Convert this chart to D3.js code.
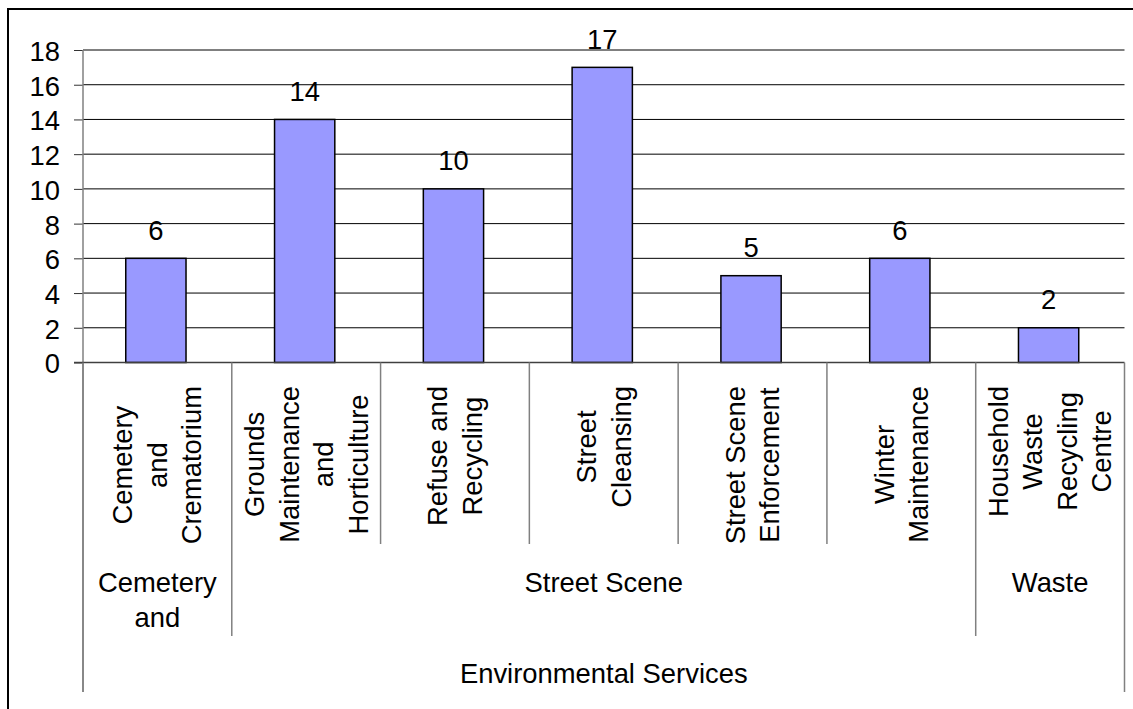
<!DOCTYPE html>
<html>
    <head>
        <script src="https://d3js.org/d3.v7.min.js"></script>
        <style type="text/css">
            html, body {
                margin: 0;
                padding: 0;
                background: #fff;
            }
            svg text {
                font-family: "Liberation Sans", Arial, sans-serif;
                fill: #000;
            }
        </style>
    </head>
    <body>
        <div id="chart"></div>
        <script>
            // values
            var categories = ["Cemetery and Crematorium", "Grounds Maintenance and Horticulture", "Refuse and Recycling",
                "Street Cleansing", "Street Scene Enforcement", "Winter Maintenance", "Household Waste Recycling Centre"];
            var categoryLines = [
                ["Cemetery", "and", "Crematorium"],
                ["Grounds", "Maintenance", "and", "Horticulture"],
                ["Refuse and", "Recycling"],
                ["Street", "Cleansing"],
                ["Street Scene", "Enforcement"],
                ["Winter", "Maintenance"],
                ["Household", "Waste", "Recycling", "Centre"]
            ];
            var values = [6, 14, 10, 17, 5, 6, 2];
            var groupLines = [["Cemetery", "and"], ["Street Scene"], ["Waste"]];
            var groupSpans = [1, 5, 1];
            var topGroup = "Environmental Services";
            var yTicks = [0, 2, 4, 6, 8, 10, 12, 14, 16, 18];

            var width = 1133, height = 709;
            var plotL = 83, plotR = 1124.5, plotT = 50, plotB = 362.5;
            var fs = 27.4, lh = 34.5;

            var svg = d3.select("#chart").append("svg")
                .attr("width", width)
                .attr("height", height);

            // outer frame, right and bottom edges fall outside the picture
            svg.append("rect")
                .attr("x", 8).attr("y", 9)
                .attr("width", 1140).attr("height", 710)
                .attr("fill", "none")
                .attr("stroke", "#000")
                .attr("stroke-width", 2);

            var x = d3.scaleBand().domain(categories).range([plotL, plotR]).padding(0);
            var y = d3.scaleLinear().domain([0, 18]).range([plotB, plotT]);

            // gridlines
            svg.append("g").selectAll("line")
                .data(yTicks.filter(function(d) { return d > 0; }))
                .enter().append("line")
                .attr("x1", plotL).attr("x2", plotR)
                .attr("y1", function(d) { return y(d); })
                .attr("y2", function(d) { return y(d); })
                .attr("stroke", "#000")
                .attr("stroke-width", 1);

            // y axis
            var yAxis = svg.append("g")
                .attr("transform", "translate(" + plotL + ",0)")
                .call(d3.axisLeft(y).tickValues(yTicks).tickSize(9).tickPadding(14));
            yAxis.select(".domain").remove();
            yAxis.selectAll(".tick line").attr("stroke", "#333");
            yAxis.selectAll(".tick text")
                .attr("font-size", fs)
                .attr("dy", "0.38em")
                .style("font-family", "'Liberation Sans', Arial, sans-serif");

            // bars
            var barW = x.bandwidth() * 0.405;
            svg.append("g").selectAll("rect")
                .data(values)
                .enter().append("rect")
                .attr("x", function(d, i) { return x(categories[i]) + x.bandwidth() / 2 - barW / 2 - 1.5; })
                .attr("y", function(d) { return y(d); })
                .attr("width", barW)
                .attr("height", function(d) { return y(0) - y(d); })
                .attr("fill", "#9999FF")
                .attr("stroke", "#000")
                .attr("stroke-width", 1.5);

            // value labels
            svg.append("g").selectAll("text")
                .data(values)
                .enter().append("text")
                .attr("x", function(d, i) { return x(categories[i]) + x.bandwidth() / 2 - 1.5; })
                .attr("y", function(d) { return y(d) - 18.5; })
                .attr("text-anchor", "middle")
                .attr("font-size", fs)
                .text(function(d) { return d; });

            // vertical axis line and baseline
            svg.append("line")
                .attr("x1", plotL).attr("x2", plotL)
                .attr("y1", plotT).attr("y2", 692)
                .attr("stroke", "#808080").attr("stroke-width", 1.5);
            svg.append("line")
                .attr("x1", plotL - 9).attr("x2", plotR)
                .attr("y1", plotB).attr("y2", plotB)
                .attr("stroke", "#404040").attr("stroke-width", 1.5);

            // category separators
            var edges = categories.map(function(c) { return x(c); }).concat([plotR]);
            var groupEdges = [0];
            groupSpans.forEach(function(s) { groupEdges.push(groupEdges[groupEdges.length - 1] + s); });
            svg.append("g").selectAll("line")
                .data(edges)
                .enter().append("line")
                .attr("x1", function(d) { return d; })
                .attr("x2", function(d) { return d; })
                .attr("y1", plotB)
                .attr("y2", function(d, i) {
                    if (i === 0 || i === edges.length - 1) return 692;
                    if (groupEdges.indexOf(i) >= 0) return 636;
                    return 544;
                })
                .attr("stroke", "#808080")
                .attr("stroke-width", 1.5);

            // rotated category labels
            var catG = svg.append("g").selectAll("g")
                .data(categoryLines)
                .enter().append("g")
                .attr("transform", function(d, i) {
                    return "translate(" + (x(categories[i]) + x.bandwidth() / 2) + ",386) rotate(-90)";
                });
            catG.each(function(lines) {
                var g = d3.select(this);
                var n = lines.length;
                var texts = g.selectAll("text")
                    .data(lines)
                    .enter().append("text")
                    .attr("y", function(d, j) { return (j - (n - 1) / 2) * lh + fs * 0.35; })
                    .attr("text-anchor", "middle")
                    .attr("font-size", fs)
                    .text(function(d) { return d; });
                var maxW = 0;
                texts.each(function() { maxW = Math.max(maxW, this.getComputedTextLength()); });
                texts.attr("x", -maxW / 2);
            });

            // second level labels
            var groupCenters = groupSpans.map(function(s, i) {
                var a = edges[groupEdges[i]], b = edges[groupEdges[i + 1]];
                return (a + b) / 2;
            });
            groupLines.forEach(function(lines, i) {
                svg.append("g").selectAll("text")
                    .data(lines)
                    .enter().append("text")
                    .attr("x", groupCenters[i])
                    .attr("y", function(d, j) { return 592 + j * 35; })
                    .attr("text-anchor", "middle")
                    .attr("font-size", fs)
                    .text(function(d) { return d; });
            });

            // top level label
            svg.append("text")
                .attr("x", (plotL + plotR) / 2)
                .attr("y", 683)
                .attr("text-anchor", "middle")
                .attr("font-size", fs)
                .text(topGroup);
        </script>
    </body>
</html>
